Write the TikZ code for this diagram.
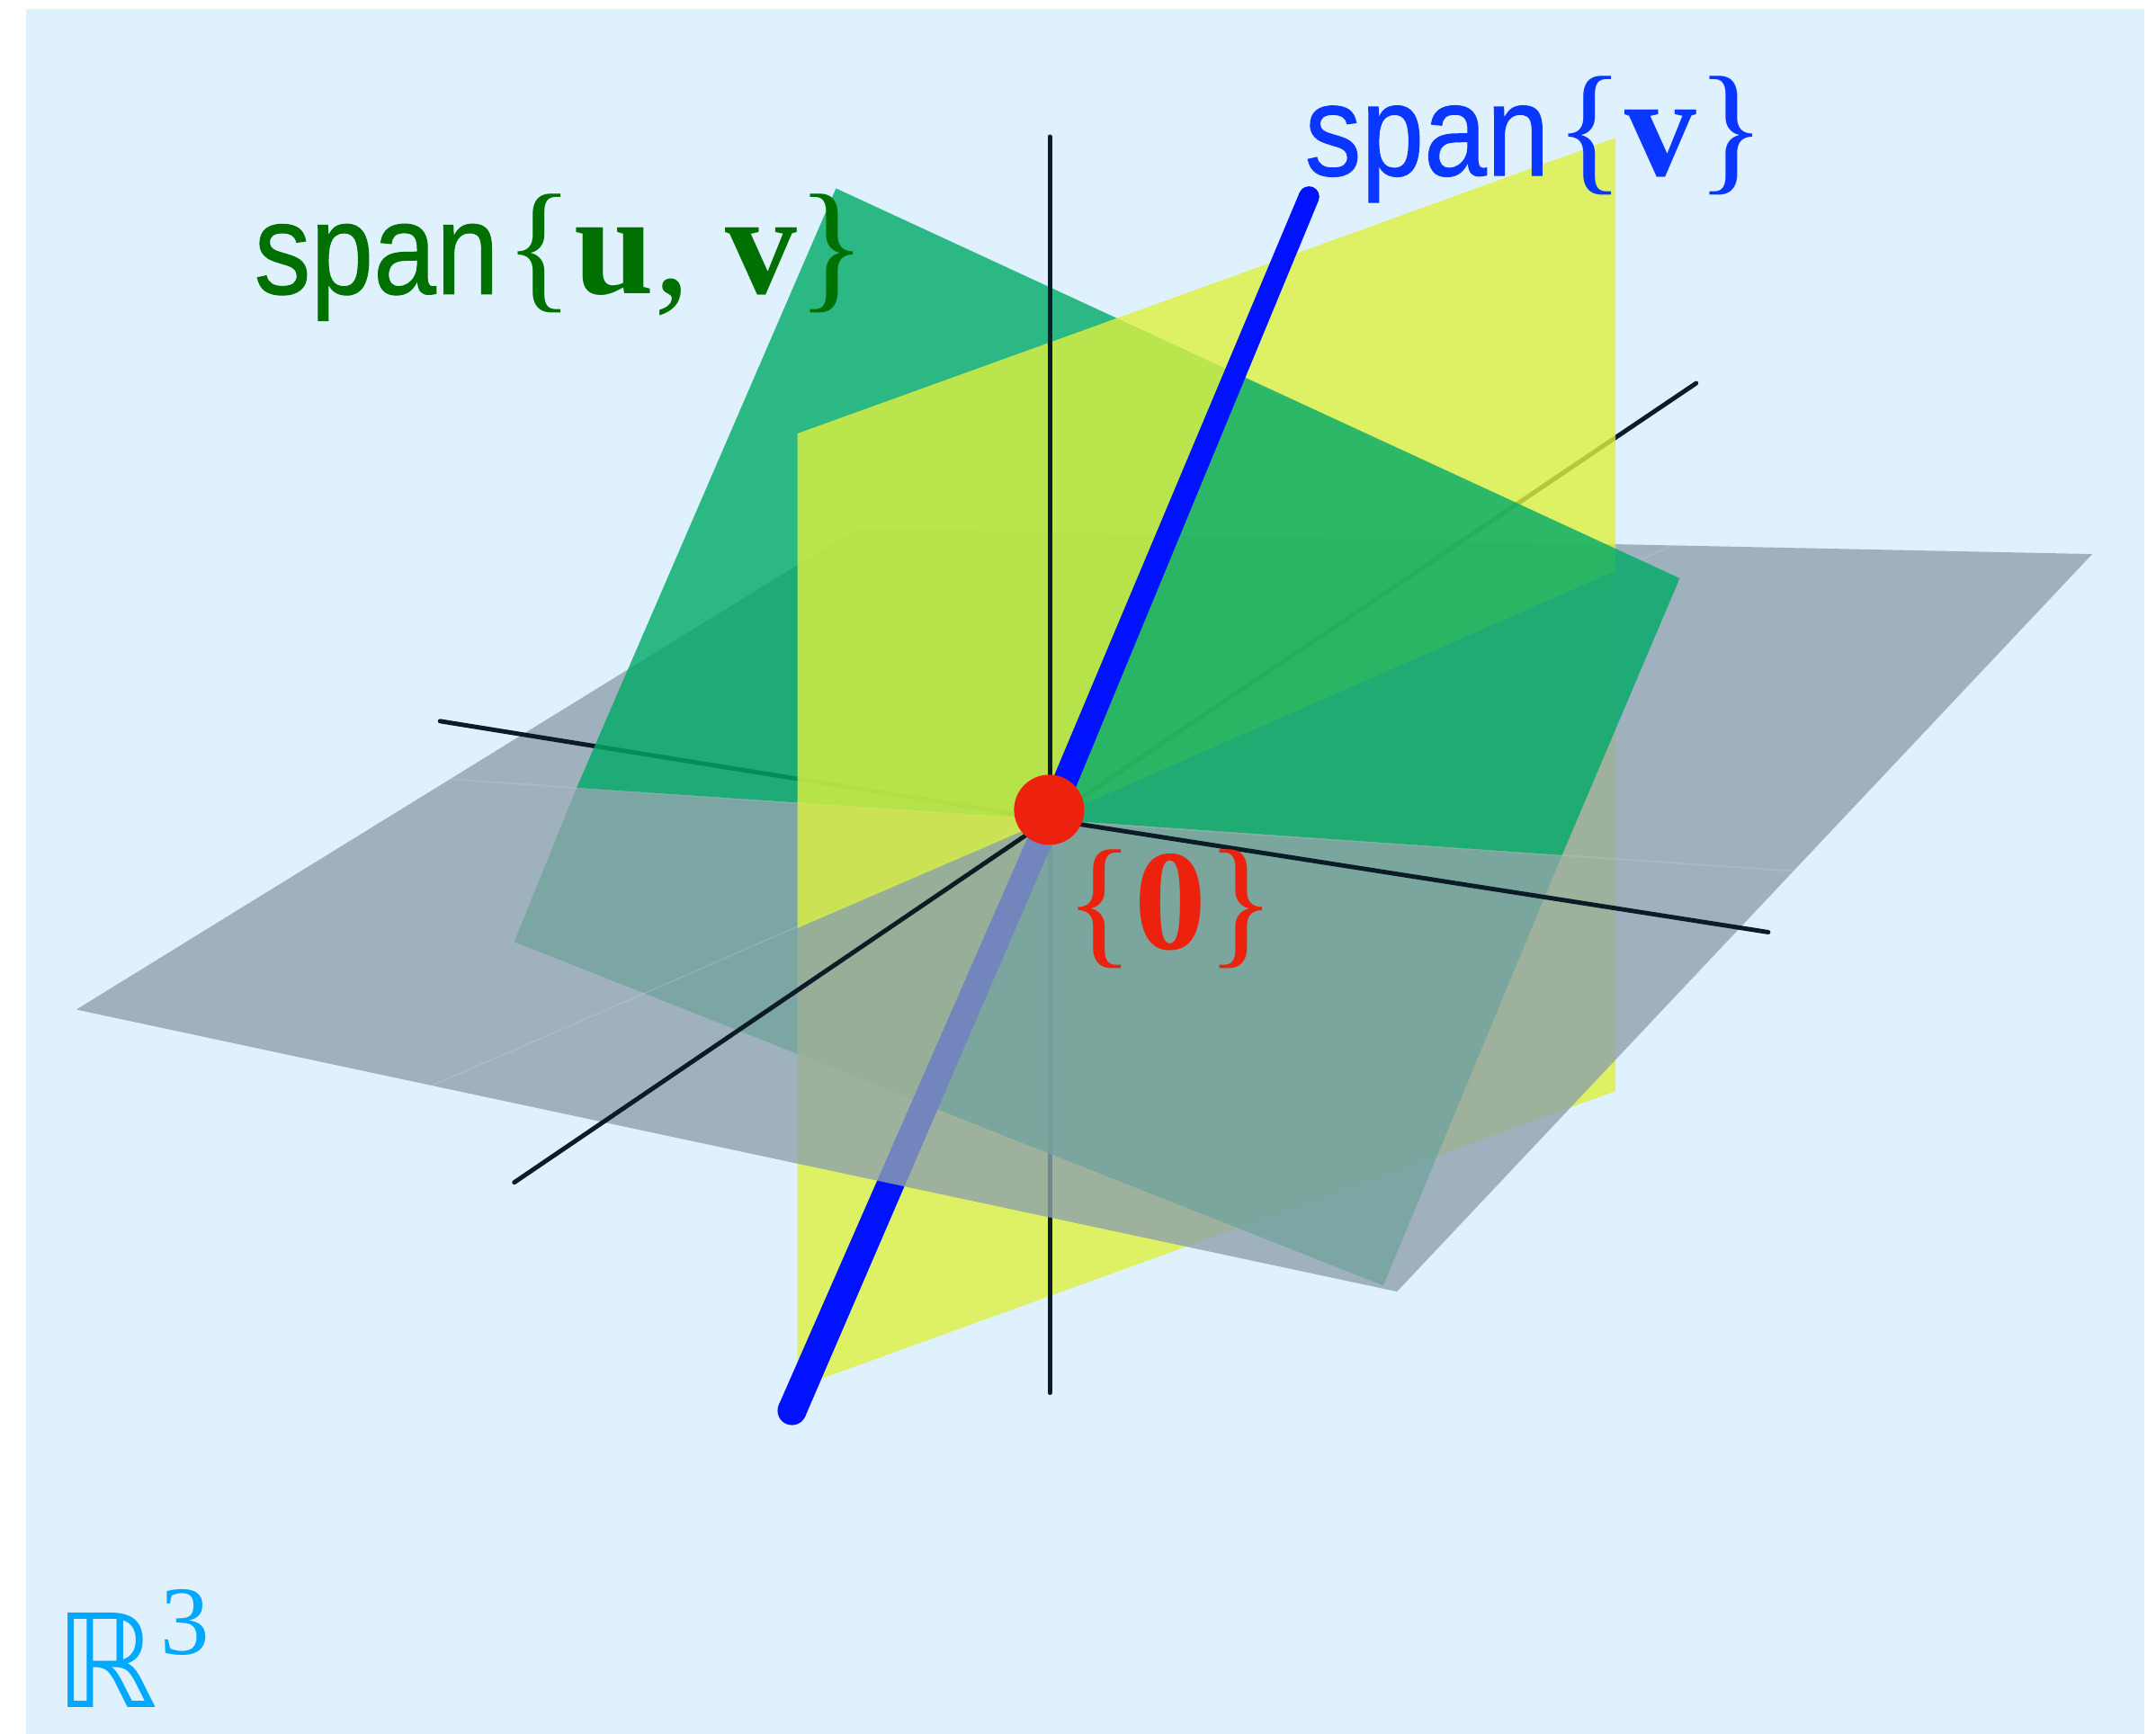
\documentclass[tikz,border=0pt]{standalone}
\usepackage{graphicx}
\usepackage{fontspec}
\newfontfamily\spanfont[FakeBold=0.8]{Liberation Sans}
\newfontfamily\tnr{Liberation Serif}
\newfontfamily\dejavu{DejaVu Sans}
\definecolor{bgc}{RGB}{222,241,252}
\definecolor{grayp}{RGB}{143,162,172}
\definecolor{greenp}{RGB}{0,170,104}
\definecolor{yellowp}{RGB}{222,241,63}
\definecolor{bluel}{RGB}{0,18,255}
\definecolor{axisc}{RGB}{12,28,38}
\definecolor{redc}{RGB}{237,34,14}
\definecolor{labgreen}{RGB}{0,112,0}
\definecolor{labblue}{RGB}{10,55,255}
\definecolor{labcyan}{RGB}{0,168,255}
\tikzset{
  axisline/.style={line width=1.4pt, draw=axisc, line cap=round, line join=round},
  gplane/.style={fill=greenp, fill opacity=0.8},
  yplane/.style={fill=yellowp, fill opacity=0.8},
  xplane/.style={fill=grayp, fill opacity=0.8},
  seam/.style={draw=white, draw opacity=0.12, line width=0.5pt},
  bluefill/.style={fill=bluel},
  lab/.style={inner sep=0pt, outer sep=0pt, anchor=base west},
}
\begin{document}
\begin{tikzpicture}[x=0.15287mm,y=-0.15287mm]
\useasboundingbox (0,0) rectangle (1568,1261);
\fill[white] (0,0) rectangle (1568,1261);
\fill[bgc] (19,6.5) rectangle (1559.5,1261);

% key points
\coordinate (O) at (763,596);
\coordinate (dot) at (763,589);
% gray plane
\coordinate (XL) at (55.5,734.3);
\coordinate (XB) at (1016,939.4);
\coordinate (XR) at (1521.6,403);
\coordinate (XT) at (623,384.4);
% green plane
\coordinate (GT) at (608,137);
\coordinate (GR) at (1221.6,420.6);
\coordinate (GB) at (1006,935);
\coordinate (GL) at (374,685);
% yellow plane
\coordinate (YTL) at (580,315.3);
\coordinate (YTR) at (1175,100.3);
\coordinate (YBR) at (1175,793.6);
\coordinate (YBL) at (580,1009);
% intersection points on edges
\coordinate (Gvt) at (898.4,271.3);
\coordinate (Gvb) at (672.8,803.3);
\coordinate (Yvt) at (933.2,187.8);
\coordinate (Yvb) at (584,1007.6);
\coordinate (Ggl) at (419.4,573);
\coordinate (Ggr) at (1136,622);
\coordinate (Yyl) at (580,675);
\coordinate (Yyr) at (1175,415);
\coordinate (Xgl) at (327.4,566.7);
\coordinate (Xgr) at (1304.3,633.6);
\coordinate (Xyl) at (314.6,789.5);
\coordinate (Xyr) at (1216.7,396.7);
% axes ends
\coordinate (Zt) at (763.5,99.4);
\coordinate (Zb) at (763.5,1013);
\coordinate (Zo) at (763.5,596);
\coordinate (XAl) at (320,524.5);
\coordinate (XAr) at (1286,678);
\coordinate (YAl) at (374,860);
\coordinate (YAr) at (1233.6,278.7);
% blue line
\coordinate (Vt) at (952,143);
\coordinate (Vb) at (576,1026);
\coordinate (Vt1) at (958.9,145.9);
\coordinate (Vt2) at (945.1,140.1);
\coordinate (Vo1) at (771.3,599.5);
\coordinate (Vo2) at (754.7,592.5);
\coordinate (Vb1) at (585.6,1030.2);
\coordinate (Vb2) at (566.4,1021.8);

% ---- pieces below the horizontal plane
\fill[gplane] (Ggl) -- (O) -- (Gvb) -- (GL) -- cycle;
\fill[yplane] (Yyl) -- (O) -- (Yvb) -- (YBL) -- cycle;
\fill[yplane] (O) -- (Yyr) -- (YBR) -- (Yvb) -- cycle;
\draw[axisline] (Zo) -- (Zb);
\fill[gplane] (O) -- (Ggr) -- (GB) -- (Gvb) -- cycle;
\fill[bluefill] (Vo1) -- (Vb1) -- (Vb2) -- (Vo2) -- cycle;
\fill[bluefill] (Vb) circle[radius=4.57pt];

% ---- horizontal plane
\fill[xplane] (XL) -- (XB) -- (XR) -- (XT) -- cycle;
\draw[seam] (Xgl) -- (Xgr);
\draw[seam] (Xyl) -- (Xyr);
\draw[axisline] (XAl) -- (O) -- (XAr);
\draw[axisline] (YAl) -- (O) -- (YAr);

% ---- pieces above the horizontal plane
\fill[gplane] (GT) -- (Gvt) -- (O) -- (Ggl) -- cycle;
\fill[yplane] (YTL) -- (Yvt) -- (O) -- (Yyl) -- cycle;
\draw[axisline] (Zo) -- (Zt);
\fill[yplane] (Yvt) -- (YTR) -- (Yyr) -- (O) -- cycle;
\fill[gplane] (Gvt) -- (GR) -- (Ggr) -- (O) -- cycle;
\fill[bluefill] (Vt1) -- (Vo1) -- (Vo2) -- (Vt2) -- cycle;
\fill[bluefill] (Vt) circle[radius=3.26pt];

% origin
\fill[redc] (dot) circle[radius=11.1pt];

% labels
\node[lab, text=labgreen] (lspanuv) at (185,213.7)
  {\scalebox{0.87}[1]{\fontsize{41}{41}\spanfont\selectfont span}\kern2pt\fontsize{45.4}{50}\tnr\selectfont\{\textbf{u}, \textbf{v}\}};
\node[lab, text=labblue] (lspanv) at (949,127.6)
  {\scalebox{0.87}[1]{\fontsize{41}{41}\spanfont\selectfont span}\kern2pt\fontsize{45.4}{50}\tnr\selectfont\{\textbf{v}\}};
\node[lab, text=redc] (lzero) at (775,690.5)
  {\fontsize{45.4}{50}\tnr\selectfont\{\textbf{0}\}};
\node[lab, text=labcyan] (lR) at (40,1242) {\fontsize{41}{41}\dejavu\selectfont ℝ};
\node[lab, text=labcyan] (l3) at (117,1203) {\fontsize{31}{31}\tnr\selectfont 3};
\end{tikzpicture}
\end{document}
